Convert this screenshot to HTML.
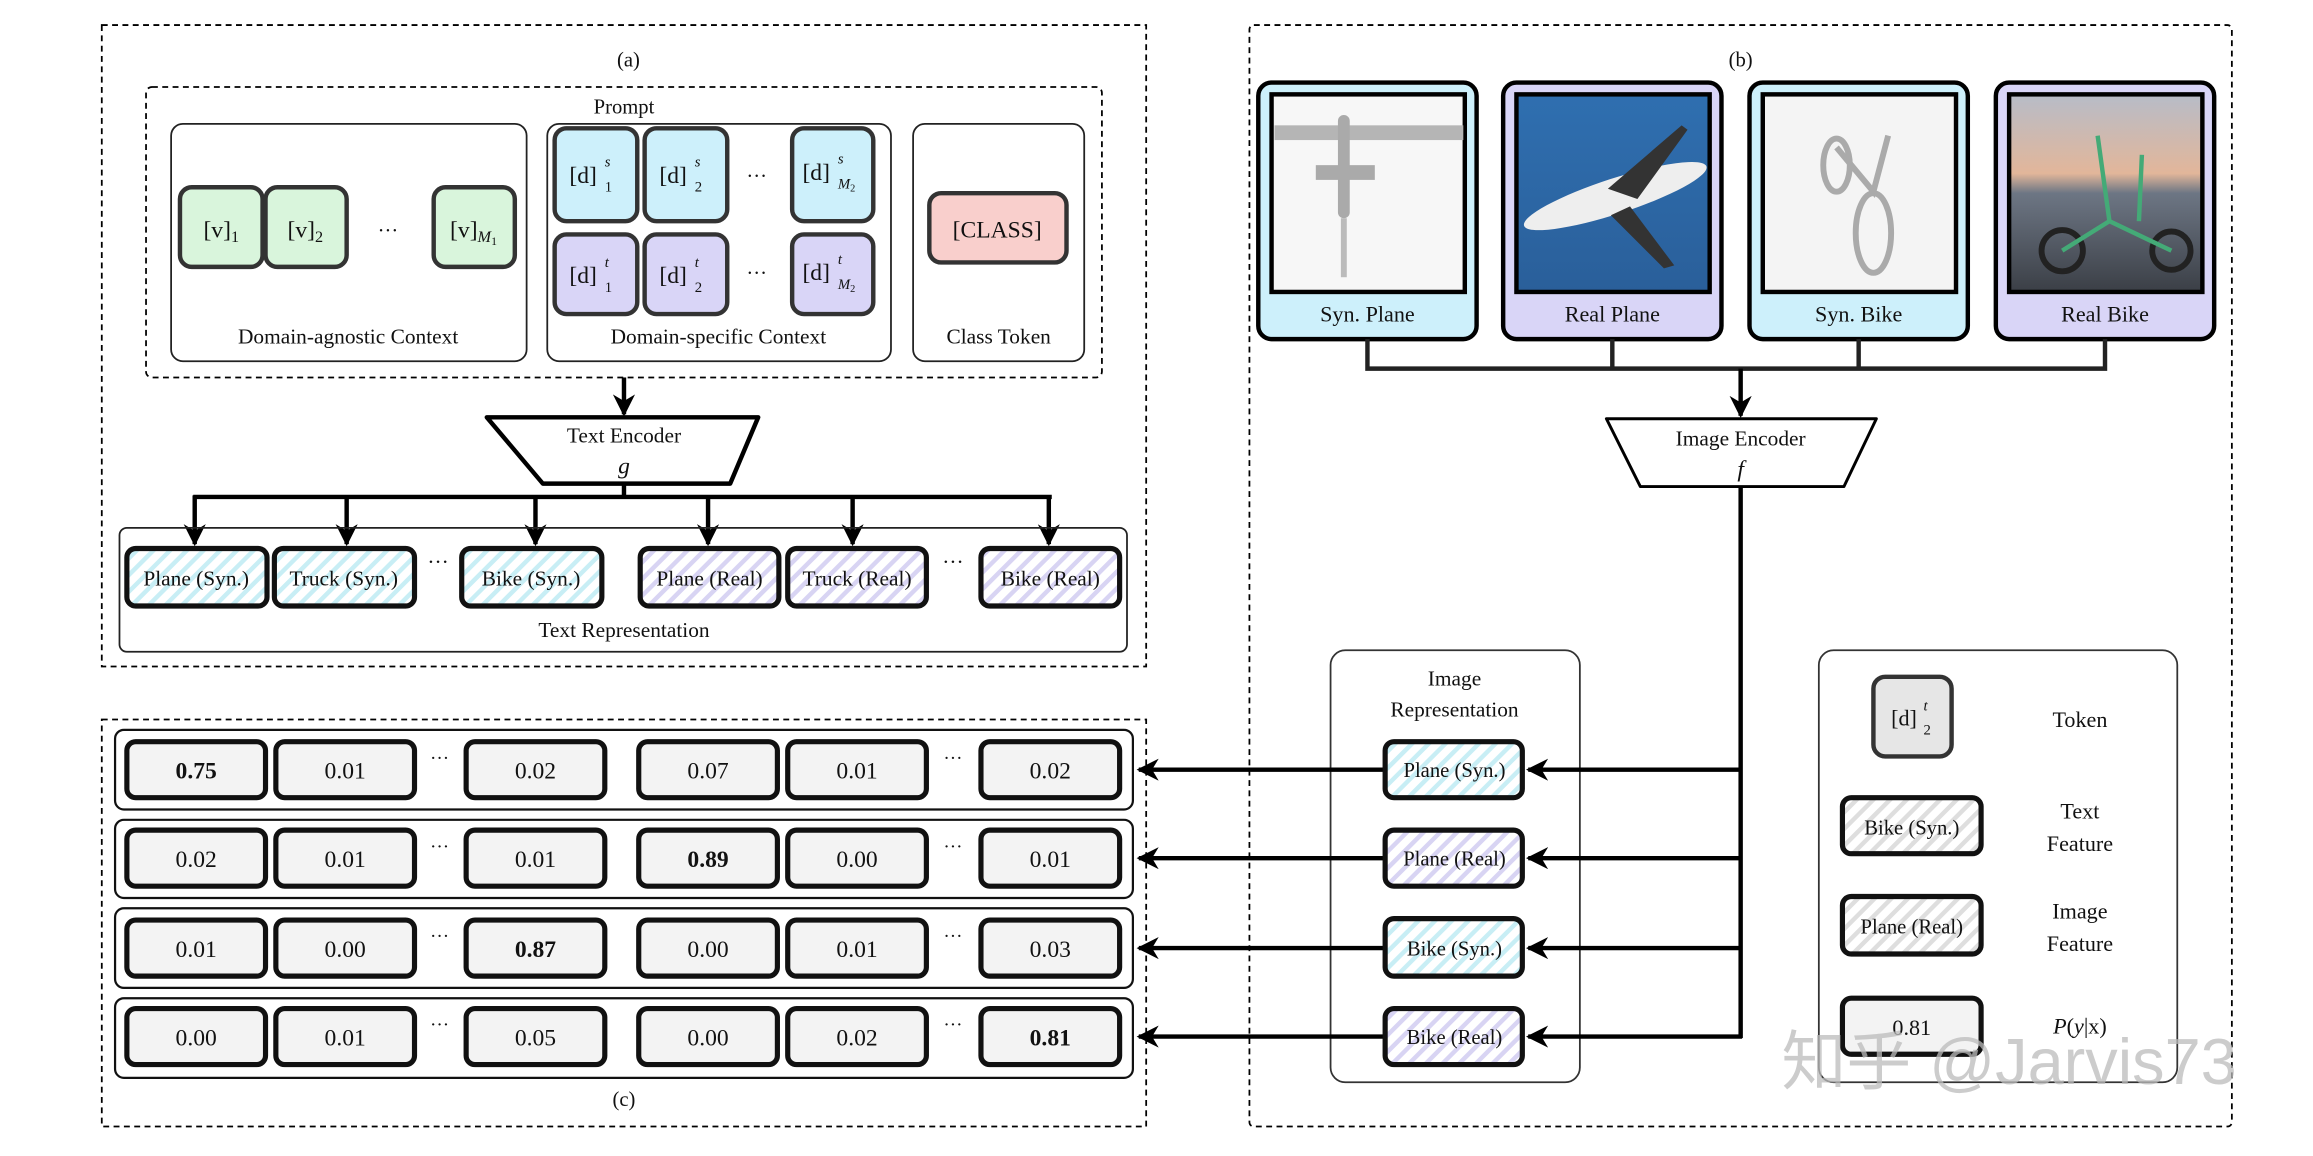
<!DOCTYPE html>
<html><head><meta charset="utf-8"><style>html,body{margin:0;padding:0;background:#fff}svg{display:block}text{font-family:"Liberation Serif",serif;fill:#111}</style></head>
<body>
<svg width="2313" height="1156" viewBox="0 0 1568 784" preserveAspectRatio="none" xmlns="http://www.w3.org/2000/svg">
<defs>
<pattern id="hc" width="8" height="8" patternUnits="userSpaceOnUse" patternTransform="rotate(45)"><rect width="8" height="8" fill="#fff"/><rect width="3" height="8" fill="#c8eef5"/></pattern>
<pattern id="hp" width="8" height="8" patternUnits="userSpaceOnUse" patternTransform="rotate(45)"><rect width="8" height="8" fill="#fff"/><rect width="3" height="8" fill="#d8d4f3"/></pattern>
<pattern id="hg" width="8" height="8" patternUnits="userSpaceOnUse" patternTransform="rotate(45)"><rect width="8" height="8" fill="#fff"/><rect width="3" height="8" fill="#dedede"/></pattern>
<marker id="ar" viewBox="0 0 10 10" refX="9" refY="5" markerWidth="5" markerHeight="5" orient="auto"><path d="M0,0 L10,5 L0,10 L3,5 z" fill="#000"/></marker>
<linearGradient id="sky" x1="0" y1="0" x2="0" y2="1"><stop offset="0" stop-color="#2f6fb0"/><stop offset="1" stop-color="#2a5f9a"/></linearGradient>
<linearGradient id="sun" x1="0" y1="0" x2="0" y2="1"><stop offset="0" stop-color="#b7bcc8"/><stop offset="0.4" stop-color="#e2b69a"/><stop offset="0.5" stop-color="#6d7684"/><stop offset="1" stop-color="#3b3f46"/></linearGradient>
</defs>

<rect x="69" y="17" width="708" height="435" fill="none" stroke="#000" stroke-width="1.2" stroke-dasharray="4,3"/>
<text x="426" y="45" font-size="14" text-anchor="middle">(a)</text>
<rect x="99" y="59" width="648" height="197" rx="4" fill="none" stroke="#000" stroke-width="1.2" stroke-dasharray="4,3"/>
<text x="423" y="77" font-size="14" text-anchor="middle">Prompt</text>
<rect x="116" y="84" width="241" height="161" rx="8" fill="#fff" stroke="#222" stroke-width="1.2"/>
<rect x="371" y="84" width="233" height="161" rx="8" fill="#fff" stroke="#222" stroke-width="1.2"/>
<rect x="619" y="84" width="116" height="161" rx="8" fill="#fff" stroke="#222" stroke-width="1.2"/>
<g stroke="#333" stroke-width="3" fill="#d9f5dc">
<rect x="122" y="127" width="56" height="54" rx="8"/><rect x="180" y="127" width="55" height="54" rx="8"/><rect x="294" y="127" width="55" height="54" rx="8"/>
</g>
<g stroke="#333" stroke-width="3" fill="#cdf0fb">
<rect x="376" y="87" width="56" height="63" rx="8"/><rect x="437" y="87" width="56" height="63" rx="8"/><rect x="537" y="87" width="55" height="63" rx="8"/>
</g>
<g stroke="#333" stroke-width="3" fill="#d9d5f7">
<rect x="376" y="159" width="56" height="54" rx="8"/><rect x="437" y="159" width="56" height="54" rx="8"/><rect x="537" y="159" width="55" height="54" rx="8"/>
</g>
<rect x="630" y="131" width="93" height="47" rx="8" fill="#f9cfcc" stroke="#333" stroke-width="3"/>
<g font-size="16" text-anchor="middle">
<text x="150" y="161">[v]<tspan font-size="11" dy="3">1</tspan></text>
<text x="207" y="161">[v]<tspan font-size="11" dy="3">2</tspan></text>
<text x="263" y="161" font-size="14">···</text>
<text x="321" y="161">[v]<tspan font-size="11" dy="3" font-style="italic">M</tspan><tspan font-size="8" dy="2">1</tspan></text>
</g>
<g font-size="16">
<text x="386" y="124">[d]</text><text x="410" y="113" font-size="10" font-style="italic">s</text><text x="410" y="130" font-size="10">1</text>
<text x="447" y="124">[d]</text><text x="471" y="113" font-size="10" font-style="italic">s</text><text x="471" y="130" font-size="10">2</text>
<text x="544" y="122">[d]</text><text x="568" y="111" font-size="10" font-style="italic">s</text><text x="568" y="128" font-size="10" font-style="italic">M<tspan font-size="7" dy="2" font-style="normal">2</tspan></text>
<text x="386" y="192">[d]</text><text x="410" y="181" font-size="10" font-style="italic">t</text><text x="410" y="198" font-size="10">1</text>
<text x="447" y="192">[d]</text><text x="471" y="181" font-size="10" font-style="italic">t</text><text x="471" y="198" font-size="10">2</text>
<text x="544" y="190">[d]</text><text x="568" y="179" font-size="10" font-style="italic">t</text><text x="568" y="196" font-size="10" font-style="italic">M<tspan font-size="7" dy="2" font-style="normal">2</tspan></text>
</g>
<g font-size="16" text-anchor="middle">
<text x="513" y="124" font-size="14">···</text>
<text x="513" y="190" font-size="14">···</text>
<text x="676" y="161">[CLASS]</text>
</g>
<g font-size="14.5" text-anchor="middle">
<text x="236" y="233">Domain-agnostic Context</text>
<text x="487" y="233">Domain-specific Context</text>
<text x="677" y="233">Class Token</text>
</g>
<line x1="423" y1="256" x2="423" y2="281" stroke="#000" stroke-width="3" marker-end="url(#ar)"/>
<path d="M330,283 L514,283 L495,328 L368,328 Z" fill="#fff" stroke="#000" stroke-width="3" stroke-linejoin="round"/>
<text x="423" y="300" font-size="14.5" text-anchor="middle">Text Encoder</text>
<text x="423" y="321" font-size="16" font-style="italic" text-anchor="middle">g</text>
<g stroke="#000" stroke-width="3" fill="none">
<line x1="423" y1="328" x2="423" y2="337"/>
<line x1="131" y1="337" x2="713" y2="337"/>
<line x1="132" y1="336" x2="132" y2="369" marker-end="url(#ar)"/>
<line x1="235" y1="336" x2="235" y2="369" marker-end="url(#ar)"/>
<line x1="363" y1="336" x2="363" y2="369" marker-end="url(#ar)"/>
<line x1="480" y1="336" x2="480" y2="369" marker-end="url(#ar)"/>
<line x1="578" y1="336" x2="578" y2="369" marker-end="url(#ar)"/>
<line x1="711" y1="336" x2="711" y2="369" marker-end="url(#ar)"/>
</g>
<rect x="81" y="358" width="683" height="84" rx="5" fill="none" stroke="#222" stroke-width="1.2"/>
<g stroke="#111" stroke-width="3.5">
<rect x="86" y="372" width="95" height="39" rx="6" fill="url(#hc)"/>
<rect x="186" y="372" width="95" height="39" rx="6" fill="url(#hc)"/>
<rect x="313" y="372" width="95" height="39" rx="6" fill="url(#hc)"/>
<rect x="434" y="372" width="94" height="39" rx="6" fill="url(#hp)"/>
<rect x="534" y="372" width="94" height="39" rx="6" fill="url(#hp)"/>
<rect x="665" y="372" width="94" height="39" rx="6" fill="url(#hp)"/>
</g>
<g font-size="14.5" text-anchor="middle">
<text x="133" y="397">Plane (Syn.)</text><text x="233" y="397">Truck (Syn.)</text>
<text x="360" y="397">Bike (Syn.)</text><text x="481" y="397">Plane (Real)</text>
<text x="581" y="397">Truck (Real)</text><text x="712" y="397">Bike (Real)</text>
<text x="297" y="386">···</text><text x="646" y="386">···</text>
<text x="423" y="432">Text Representation</text>
</g>

<rect x="847" y="17" width="666" height="747" rx="3" fill="none" stroke="#000" stroke-width="1.2" stroke-dasharray="4,3"/>
<text x="1180" y="45" font-size="14" text-anchor="middle">(b)</text>
<g stroke="#000" stroke-width="3">
<rect x="853" y="56" width="148" height="174" rx="9" fill="#cdf0fb"/>
<rect x="1019" y="56" width="148" height="174" rx="9" fill="#d9d5f7"/>
<rect x="1186" y="56" width="148" height="174" rx="9" fill="#cdf0fb"/>
<rect x="1353" y="56" width="148" height="174" rx="9" fill="#d9d5f7"/>
</g>
<rect x="862" y="64" width="131" height="134" fill="#f7f7f7" stroke="#000" stroke-width="3"/>
<g fill="#aaa"><rect x="864" y="85" width="128" height="10" fill="#b5b5b5"/><rect x="892" y="112" width="40" height="10"/><rect x="907" y="78" width="8" height="70" rx="4"/><rect x="909" y="148" width="4" height="40" fill="#bbb"/></g>
<rect x="1028" y="64" width="131" height="134" fill="url(#sky)" stroke="#000" stroke-width="3"/>
<g fill="#eee"><ellipse cx="1095" cy="133" rx="65" ry="12" transform="rotate(-18 1095 133)"/></g>
<path d="M1090,128 L1140,85 L1144,88 L1110,135 Z M1105,140 L1135,180 L1128,182 L1092,146 Z" fill="#333"/>
<rect x="1195" y="64" width="131" height="134" fill="#f4f4f4" stroke="#000" stroke-width="3"/>
<g fill="none" stroke="#aaa" stroke-width="4"><ellipse cx="1270" cy="158" rx="12" ry="27"/><ellipse cx="1245" cy="112" rx="9" ry="18"/><path d="M1245,100 L1270,130 L1280,92"/></g>
<rect x="1362" y="64" width="131" height="134" fill="url(#sun)" stroke="#000" stroke-width="3"/>
<g fill="none" stroke="#222" stroke-width="4"><circle cx="1398" cy="170" r="14"/><circle cx="1472" cy="170" r="13"/></g>
<g fill="none" stroke="#4a7" stroke-width="3"><path d="M1398,170 L1430,150 L1472,170 M1430,150 L1422,92 M1450,150 L1452,105"/></g>
<g font-size="15" text-anchor="middle">
<text x="927" y="218">Syn. Plane</text><text x="1093" y="218">Real Plane</text>
<text x="1260" y="218">Syn. Bike</text><text x="1427" y="218">Real Bike</text>
</g>
<g stroke="#222" stroke-width="3" fill="none">
<polyline points="927,230 927,250 1427,250 1427,230"/>
<line x1="1093" y1="230" x2="1093" y2="250"/><line x1="1260" y1="230" x2="1260" y2="250"/>
<line x1="1180" y1="250" x2="1180" y2="282" stroke="#000" marker-end="url(#ar)"/>
</g>
<path d="M1089,284 L1272,284 L1250,330 L1112,330 Z" fill="#fff" stroke="#000" stroke-width="2" stroke-linejoin="round"/>
<text x="1180" y="302" font-size="14.5" text-anchor="middle">Image Encoder</text>
<text x="1180" y="323" font-size="16" font-style="italic" text-anchor="middle">f</text>
<rect x="902" y="441" width="169" height="293" rx="10" fill="none" stroke="#333" stroke-width="1.2"/>
<text x="986" y="465" font-size="14.5" text-anchor="middle">Image</text>
<text x="986" y="486" font-size="14.5" text-anchor="middle">Representation</text>
<g stroke="#000" stroke-width="3" fill="none">
<line x1="1180" y1="330" x2="1180" y2="704"/>
<line x1="1181" y1="522" x2="1036" y2="522" marker-end="url(#ar)"/>
<line x1="1181" y1="582" x2="1036" y2="582" marker-end="url(#ar)"/>
<line x1="1181" y1="643" x2="1036" y2="643" marker-end="url(#ar)"/>
<line x1="1181" y1="703" x2="1036" y2="703" marker-end="url(#ar)"/>
<line x1="939" y1="522" x2="772" y2="522" marker-end="url(#ar)"/>
<line x1="939" y1="582" x2="772" y2="582" marker-end="url(#ar)"/>
<line x1="939" y1="643" x2="772" y2="643" marker-end="url(#ar)"/>
<line x1="939" y1="703" x2="772" y2="703" marker-end="url(#ar)"/>
</g>
<g stroke="#111" stroke-width="3.5">
<rect x="939" y="503" width="93" height="38" rx="6" fill="url(#hc)"/>
<rect x="939" y="563" width="93" height="38" rx="6" fill="url(#hp)"/>
<rect x="939" y="623" width="93" height="39" rx="6" fill="url(#hc)"/>
<rect x="939" y="684" width="93" height="38" rx="6" fill="url(#hp)"/>
</g>
<g font-size="14" text-anchor="middle">
<text x="986" y="527">Plane (Syn.)</text><text x="986" y="587">Plane (Real)</text>
<text x="986" y="648">Bike (Syn.)</text><text x="986" y="708">Bike (Real)</text>
</g>
<rect x="1233" y="441" width="243" height="293" rx="10" fill="none" stroke="#333" stroke-width="1.2"/>
<rect x="1270" y="459" width="53" height="54" rx="8" fill="#e6e6e6" stroke="#333" stroke-width="3"/>
<text x="1282" y="492" font-size="15">[d]</text><text x="1304" y="482" font-size="10" font-style="italic">t</text><text x="1304" y="498" font-size="10">2</text>
<g stroke="#111" stroke-width="3.5">
<rect x="1249" y="541" width="94" height="38" rx="6" fill="url(#hg)"/>
<rect x="1249" y="608" width="94" height="39" rx="6" fill="url(#hg)"/>
<rect x="1249" y="677" width="94" height="38" rx="6" fill="#f3f3f3"/>
</g>
<g font-size="15" text-anchor="middle">
<text x="1296" y="566" font-size="14">Bike (Syn.)</text>
<text x="1296" y="633" font-size="14">Plane (Real)</text>
<text x="1296" y="702">0.81</text>
<text x="1410" y="493">Token</text>
<text x="1410" y="555">Text</text><text x="1410" y="577">Feature</text>
<text x="1410" y="623">Image</text><text x="1410" y="645">Feature</text>
<text x="1410" y="701" font-style="italic">P<tspan font-style="normal">(</tspan>y<tspan font-style="normal">|x)</tspan></text>
</g>
<text x="1362" y="735" font-size="44" text-anchor="middle" style="font-family:'Liberation Sans','Noto Sans CJK SC',sans-serif;fill:#bbb;opacity:0.75">知乎 @Jarvis73</text>

<rect x="69" y="488" width="708" height="276" fill="none" stroke="#000" stroke-width="1.2" stroke-dasharray="4,3"/>
<text x="423" y="750" font-size="14" text-anchor="middle">(c)</text>
<g stroke="#111" stroke-width="1.5" fill="#fff">
<rect x="78" y="495" width="690" height="54" rx="6"/>
<rect x="78" y="556" width="690" height="53" rx="6"/>
<rect x="78" y="616" width="690" height="54" rx="6"/>
<rect x="78" y="677" width="690" height="54" rx="6"/>
</g>
<g stroke="#111" stroke-width="3.5" fill="#f3f3f3">
<g id="r1"><rect x="86" y="503" width="94" height="38" rx="6"/><rect x="187" y="503" width="94" height="38" rx="6"/><rect x="316" y="503" width="94" height="38" rx="6"/><rect x="433" y="503" width="94" height="38" rx="6"/><rect x="534" y="503" width="94" height="38" rx="6"/><rect x="665" y="503" width="94" height="38" rx="6"/></g>
<use href="#r1" y="60"/><use href="#r1" y="121"/><use href="#r1" y="181"/>
</g>
<g font-size="16" text-anchor="middle">
<text x="133" y="528" font-weight="bold">0.75</text><text x="234" y="528">0.01</text><text x="363" y="528">0.02</text><text x="480" y="528">0.07</text><text x="581" y="528">0.01</text><text x="712" y="528">0.02</text>
<text x="133" y="588">0.02</text><text x="234" y="588">0.01</text><text x="363" y="588">0.01</text><text x="480" y="588" font-weight="bold">0.89</text><text x="581" y="588">0.00</text><text x="712" y="588">0.01</text>
<text x="133" y="649">0.01</text><text x="234" y="649">0.00</text><text x="363" y="649" font-weight="bold">0.87</text><text x="480" y="649">0.00</text><text x="581" y="649">0.01</text><text x="712" y="649">0.03</text>
<text x="133" y="709">0.00</text><text x="234" y="709">0.01</text><text x="363" y="709">0.05</text><text x="480" y="709">0.00</text><text x="581" y="709">0.02</text><text x="712" y="709" font-weight="bold">0.81</text>
</g>
<g font-size="13" text-anchor="middle">
<text x="298" y="518">···</text><text x="646" y="518">···</text>
<text x="298" y="578">···</text><text x="646" y="578">···</text>
<text x="298" y="639">···</text><text x="646" y="639">···</text>
<text x="298" y="699">···</text><text x="646" y="699">···</text>
</g>
</svg>
</body></html>
